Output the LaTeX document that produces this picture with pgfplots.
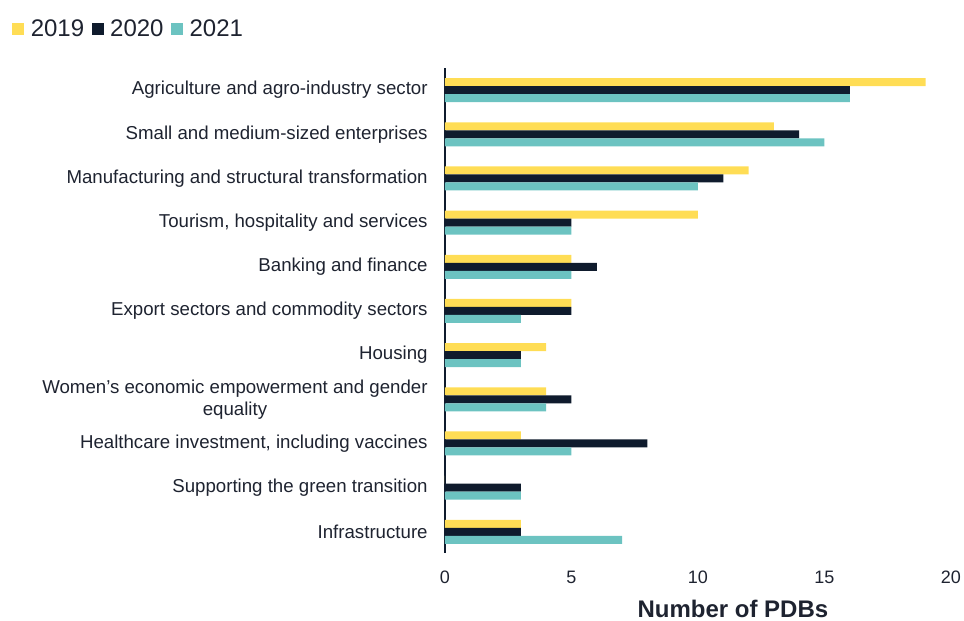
\documentclass[border=0pt]{standalone}
\usepackage{pgfplots}
\pgfplotsset{compat=1.18}
\usepackage{fontspec}
\setmainfont{Liberation Sans}
\definecolor{cy}{HTML}{FFDD55}
\definecolor{cn}{HTML}{0F1B2D}
\definecolor{ct}{HTML}{6CC3C1}
\definecolor{txt}{HTML}{1E2330}
\pgfplotstableread{
idx y2019 y2020 y2021
0 3 3 7
1 0 3 3
2 3 8 5
3 4 5 4
4 4 3 3
5 5 5 3
6 5 6 5
7 10 5 5
8 12 11 10
9 13 14 15
10 19 16 16
}\datatable
\begin{document}
\begin{tikzpicture}
\useasboundingbox (-333.75pt,-51pt) rectangle (389.25pt,414.75pt);
\begin{axis}[
  at={(0,0)}, anchor=south west,
  scale only axis, width=379.5pt, height=363.75pt,
  xbar, bar width=6pt,
  xmin=0, xmax=20, ymin=-0.48, ymax=10.5,
  xtick={0,5,10,15,20},
  ytick={0,...,10},
  yticklabels={Infrastructure,Supporting the green transition,{Healthcare investment, including vaccines},{Women’s economic empowerment and gender\\equality},Housing,Export sectors and commodity sectors,Banking and finance,{Tourism, hospitality and services},Manufacturing and structural transformation,Small and medium-sized enterprises,Agriculture and agro-industry sector},
  axis lines*=left,
  x axis line style={draw=none},
  y axis line style={draw=cn, line width=1.2pt, -},
  major tick length=0pt,
  tick label style={font=\fontsize{13.5pt}{16.5pt}\selectfont, text=txt},
  yticklabel style={align=center, xshift=-9.5pt, font=\fontsize{14pt}{16.5pt}\selectfont},
  xticklabel style={yshift=-10pt},
  /pgf/number format/assume math mode=true,
  xlabel={\textbf{Number of PDBs}},
  xlabel style={font=\fontsize{18pt}{20pt}\selectfont, text=txt, at={(axis description cs:0.569,-0.116)}, anchor=center},
  legend style={at={(axis description cs:-0.856,1.105)}, anchor=north west, draw=none, fill=none, font=\fontsize{18pt}{20pt}\selectfont, text=txt, legend columns=-1, /tikz/every odd column/.append style={column sep=3pt}, /tikz/every even column/.append style={column sep=3.5pt}, inner sep=0pt},
  legend image code/.code={\fill[#1, draw=none] (0pt,-4.5pt) rectangle (9pt,4.5pt);},
  legend cell align=left,
]
\addplot[fill=cy, draw=none, bar shift=6pt] table[x=y2019, y=idx] {\datatable};
\addplot[fill=cn, draw=none, bar shift=0pt] table[x=y2020, y=idx] {\datatable};
\addplot[fill=ct, draw=none, bar shift=-6pt] table[x=y2021, y=idx] {\datatable};
\legend{2019,2020,2021}
\end{axis}
\end{tikzpicture}
\end{document}
